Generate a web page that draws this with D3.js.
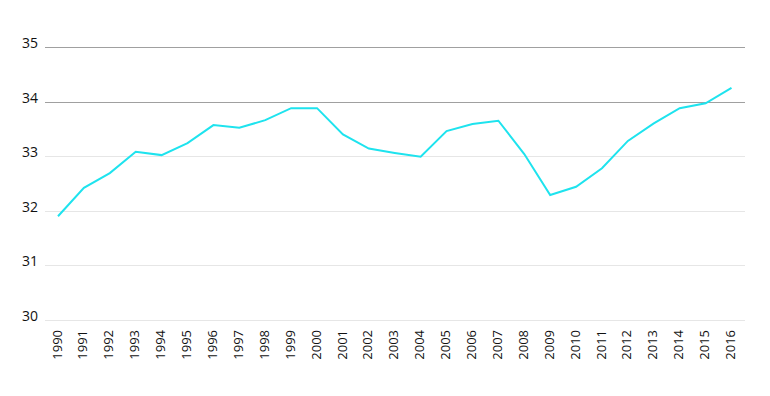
<!DOCTYPE html>
<html>
<head>
<meta charset="utf-8">
<script src="https://cdn.jsdelivr.net/npm/d3@7"></script>
<style>
  body { margin: 0; background: #fff; }
  #chart { width: 770px; height: 396px; }
  .ylab { font-family: "Open Sans", sans-serif; font-size: 14px; fill: #111; }
  .xlab { font-family: "Open Sans", sans-serif; font-size: 13px; fill: #111; }
</style>
</head>
<body>
<div id="chart"></div>
<script>
const years = d3.range(1990, 2017);
const values = [31.90, 32.42, 32.69, 33.08, 33.02, 33.24, 33.57, 33.52, 33.66, 33.88,
                33.88, 33.40, 33.14, 33.06, 32.99, 33.46, 33.59, 33.65, 33.04, 32.29,
                32.44, 32.78, 33.28, 33.60, 33.88, 33.97, 34.25];
const yTicks = [30, 31, 32, 33, 34, 35];
const darkTicks = [34, 35];

const margin = { top: 47, right: 25, bottom: 76, left: 45 };
const width = 770 - margin.left - margin.right;
const height = 396 - margin.top - margin.bottom;

const svg = d3.select("#chart")
  .append("svg")
  .attr("width", 770)
  .attr("height", 396)
  .append("g")
  .attr("transform", `translate(${margin.left}, ${margin.top})`);

const x = d3.scalePoint().domain(years).range([13, width - 13.5]);
const y = d3.scaleLinear().domain([30, 35]).range([height, 0]);

// grid lines
svg.selectAll(".grid")
  .data(yTicks)
  .join("line")
  .attr("class", "grid")
  .attr("x1", 0)
  .attr("x2", width)
  .attr("y1", d => Math.round(y(d)) + 0.5)
  .attr("y2", d => Math.round(y(d)) + 0.5)
  .attr("stroke", d => darkTicks.includes(d) ? "#a0a0a0" : "#e6e6e6")
  .attr("stroke-width", 1);

svg.selectAll(".ylab")
  .data(yTicks)
  .join("text")
  .attr("class", "ylab")
  .attr("x", -7)
  .attr("y", d => y(d) + 1)
  .attr("text-anchor", "end")
  .text(d => d);

svg.selectAll(".xlab")
  .data(years)
  .join("text")
  .attr("class", "xlab")
  .attr("text-anchor", "end")
  .attr("transform", d => `translate(${x(d) - 1}, ${height + 10}) rotate(-90)`)
  .attr("dy", "0.35em")
  .text(d => d);

const line = d3.line()
  .x((d, i) => x(years[i]))
  .y(d => y(d));

svg.append("path")
  .datum(values)
  .attr("d", line)
  .attr("fill", "none")
  .attr("stroke", "#1ee3ee")
  .attr("stroke-width", 2);
</script>
</body>
</html>
